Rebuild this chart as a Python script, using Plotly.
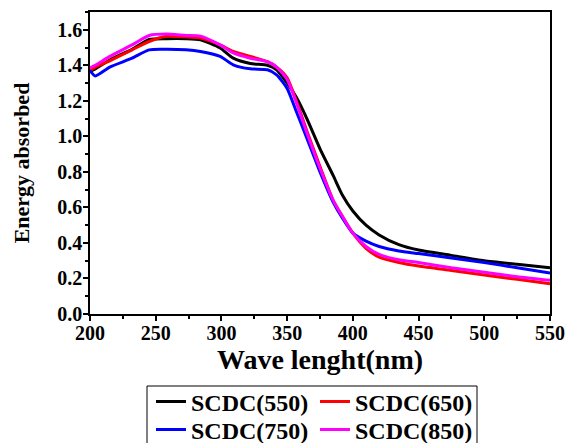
import plotly.graph_objects as go

wavelength = [200, 204, 215, 232, 245, 258, 273, 284, 299, 309, 322, 335, 342, 350, 357, 365,
              375, 385, 392, 400, 410, 420, 435, 450, 475, 500, 525, 550]

scdc_550 = [1.365, 1.38, 1.43, 1.49, 1.545, 1.55, 1.55, 1.544, 1.497, 1.44, 1.41, 1.40, 1.375, 1.30, 1.22, 1.10,
            0.93, 0.78, 0.67, 0.58, 0.50, 0.445, 0.39, 0.36, 0.33, 0.30, 0.28, 0.26]
scdc_650 = [1.37, 1.39, 1.425, 1.487, 1.534, 1.563, 1.56, 1.553, 1.515, 1.478, 1.45, 1.42, 1.39, 1.33, 1.20, 1.03,
            0.83, 0.64, 0.55, 0.455, 0.37, 0.32, 0.29, 0.27, 0.245, 0.22, 0.195, 0.17]
scdc_750 = [1.37, 1.34, 1.39, 1.44, 1.487, 1.49, 1.487, 1.478, 1.45, 1.403, 1.38, 1.375, 1.346, 1.27, 1.14, 0.99,
            0.80, 0.63, 0.54, 0.455, 0.41, 0.38, 0.355, 0.34, 0.315, 0.29, 0.26, 0.23]
scdc_850 = [1.386, 1.40, 1.45, 1.515, 1.568, 1.576, 1.568, 1.564, 1.515, 1.47, 1.44, 1.42, 1.39, 1.32, 1.19, 1.02,
            0.82, 0.64, 0.55, 0.455, 0.38, 0.335, 0.305, 0.29, 0.26, 0.235, 0.21, 0.19]

series = [
    ("SCDC(550)", scdc_550, "black", "legend"),
    ("SCDC(650)", scdc_650, "red", "legend"),
    ("SCDC(750)", scdc_750, "blue", "legend2"),
    ("SCDC(850)", scdc_850, "magenta", "legend2"),
]

FONT = "Liberation Serif"

fig = go.Figure()
for name, vals, col, leg in series:
    fig.add_trace(go.Scatter(x=wavelength, y=vals, mode="lines", name=name, legend=leg,
                             line=dict(color=col, width=3, shape="spline", smoothing=0.6)))

def axis_common():
    return dict(
        showline=True, linecolor="black", linewidth=1.5, mirror=True,
        ticks="outside", ticklen=5, tickwidth=1.5, tickcolor="black",
        showgrid=False, zeroline=False,
        tickfont=dict(family=FONT, size=20, color="black", weight="bold"),
    )

fig.update_xaxes(range=[200, 550], dtick=50, tick0=200, ticklabelstandoff=-5,
                 minor=dict(dtick=25, ticks="outside", ticklen=3, tickcolor="black", tickwidth=1.5),
                 title=dict(text="Wave lenght(nm)", standoff=2,
                            font=dict(family=FONT, size=28, color="black", weight="bold")),
                 **axis_common())
fig.update_yaxes(range=[0, 1.7], dtick=0.2, tick0=0, tickformat=".1f", ticklabelstandoff=-3,
                 minor=dict(dtick=0.1, ticks="outside", ticklen=3, tickcolor="black", tickwidth=1.5),
                 title=dict(text="Energy absorbed", standoff=22,
                            font=dict(family=FONT, size=22, color="black", weight="bold")),
                 **axis_common())

legend_font = dict(family=FONT, size=24, color="black", weight="bold")
legend_common = dict(orientation="h", xref="container", yref="container",
                     xanchor="left", yanchor="middle",
                     bgcolor="rgba(0,0,0,0)", borderwidth=0,
                     entrywidth=119, entrywidthmode="pixels",
                     font=legend_font, itemwidth=30)

fig.update_layout(
    width=566, height=443,
    font=dict(family=FONT, color="black"),
    margin=dict(l=90, r=16, t=12, b=129, autoexpand=False),
    plot_bgcolor="white", paper_bgcolor="white",
    legend=dict(x=151 / 566, y=1 - 402 / 443, **legend_common),
    legend2=dict(x=151 / 566, y=1 - 430 / 443, **legend_common),
    shapes=[dict(type="rect", xref="paper", yref="paper",
                 x0=(147 - 90) / 460, x1=(477 - 90) / 460,
                 y0=(314 - 450) / 302, y1=(314 - 386) / 302,
                 line=dict(color="black", width=1), fillcolor="rgba(0,0,0,0)")],
)

fig.write_html("out.html", config={"displayModeBar": False},
               post_script="document.body.style.margin='0px';document.body.style.overflow='hidden';")
